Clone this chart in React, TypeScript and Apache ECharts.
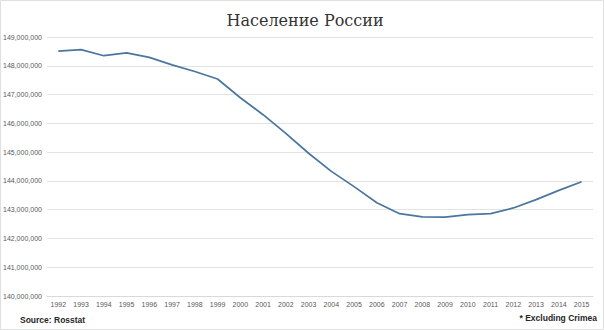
import React, { useEffect, useRef } from "react";
import * as echarts from "echarts";

const years = ["1992","1993","1994","1995","1996","1997","1998","1999","2000","2001","2002","2003","2004","2005","2006","2007","2008","2009","2010","2011","2012","2013","2014","2015"];
const population = [148510000,148560000,148350000,148450000,148290000,148030000,147800000,147540000,146890000,146300000,145650000,144960000,144330000,143800000,143240000,142860000,142750000,142740000,142830000,142860000,143060000,143350000,143670000,143970000];
const titleText = "Население России";
const sourceText = "Source: Rosstat";
const noteText = "* Excluding Crimea";

export default function App() {
  const ref = useRef<HTMLDivElement>(null);
  useEffect(() => {
    document.body.style.margin = "0";
    const chart = echarts.init(ref.current!, null, { renderer: "svg" });
    chart.setOption({
      animation: false,
      backgroundColor: "#ffffff",
      grid: { left: 43, right: 11, top: 37, bottom: 34 },
      xAxis: {
        type: "category",
        data: years,
        boundaryGap: true,
        axisLine: { show: true, lineStyle: { color: "#d9d9d9", width: 1 } },
        axisTick: { show: false },
        axisLabel: { color: "#595959", fontSize: 7, margin: 5, interval: 0, fontFamily: "Liberation Sans Narrow, Liberation Sans, sans-serif" },
      },
      yAxis: {
        type: "value",
        min: 140000000,
        max: 149000000,
        interval: 1000000,
        axisLine: { show: false },
        axisTick: { show: false },
        splitLine: { lineStyle: { color: "#e3e3e3", width: 1 } },
        axisLabel: {
          color: "#595959",
          fontSize: 7,
          margin: 5,
          fontFamily: "Liberation Sans Narrow, Liberation Sans, sans-serif",
          formatter: (v: number) => v.toLocaleString("en-US"),
        },
      },
      series: [
        {
          type: "line",
          data: population,
          symbol: "none",
          lineStyle: { color: "#4a76a0", width: 1.7 },
        },
      ],
      graphic: [
        {
          type: "rect",
          shape: { x: 0.5, y: 0.5, width: 603, height: 329 },
          style: { fill: "none", stroke: "#e0e0e0", lineWidth: 1 },
          silent: true,
        },
        {
          type: "text",
          x: 305,
          y: 20,
          style: {
            text: titleText,
            fill: "#333333",
            font: "16px 'DejaVu Serif', serif",
            textAlign: "center",
            textVerticalAlign: "middle",
          },
        },
        {
          type: "text",
          x: 20,
          y: 320,
          style: {
            text: sourceText,
            fill: "#262626",
            font: "bold 8.5px 'Liberation Sans Narrow', 'Liberation Sans', sans-serif",
            textAlign: "left",
            textVerticalAlign: "middle",
          },
        },
        {
          type: "text",
          x: 597,
          y: 318,
          style: {
            text: noteText,
            fill: "#262626",
            font: "bold 8.5px 'Liberation Sans Narrow', 'Liberation Sans', sans-serif",
            textAlign: "right",
            textVerticalAlign: "middle",
          },
        },
      ],
    });
    return () => chart.dispose();
  }, []);
  return <div ref={ref} style={{ width: 604, height: 330 }} />;
}
